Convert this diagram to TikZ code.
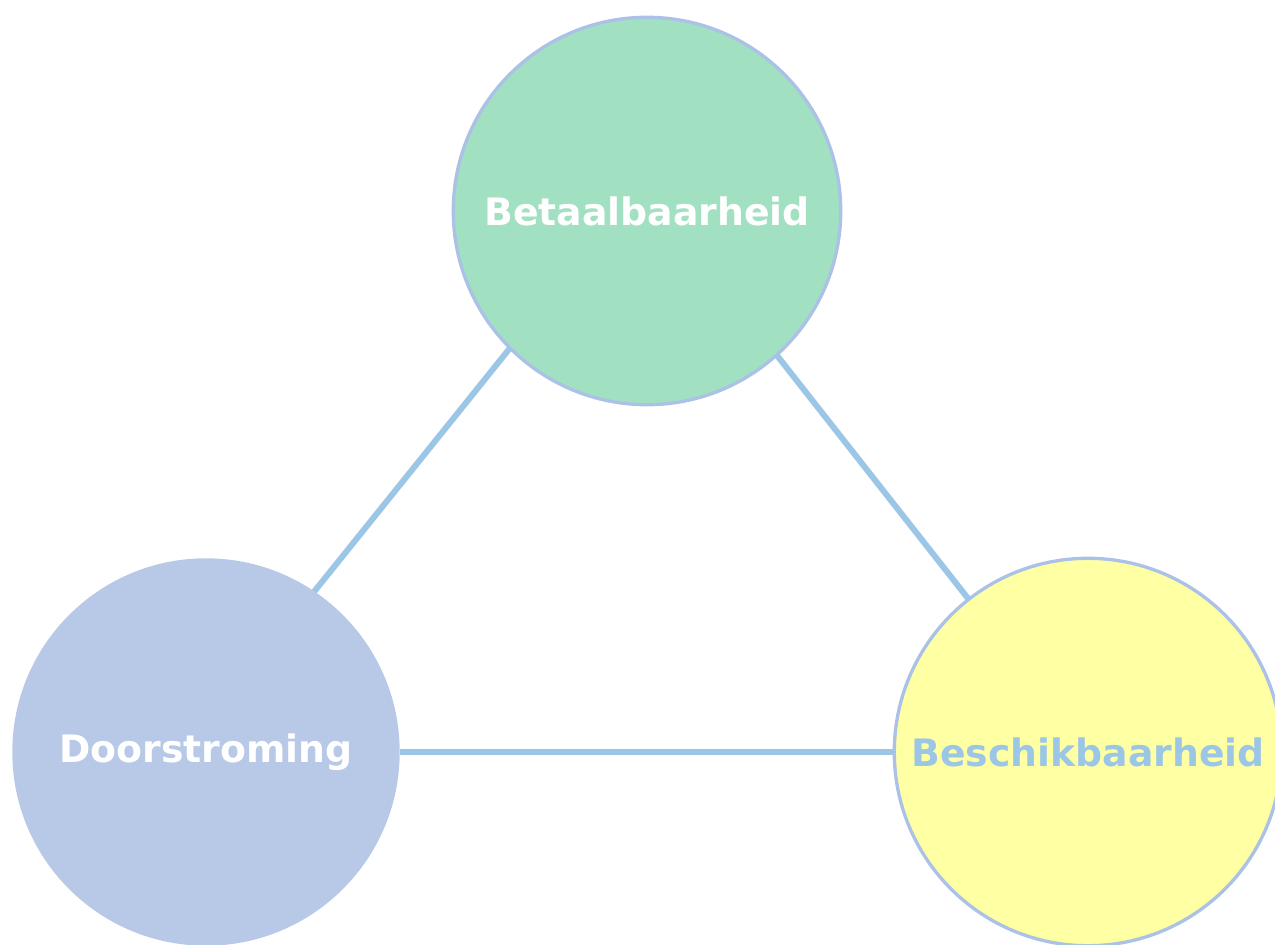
\documentclass[tikz,border=0pt]{standalone}
\usepackage{fontspec}
\usepackage{tikz}
\usetikzlibrary{calc,positioning}
\newfontfamily\verd{DejaVu Sans}
\definecolor{bgreen}{HTML}{A2E0C2}
\definecolor{dblue}{HTML}{B7C9E7}
\definecolor{byellow}{HTML}{FFFFA4}
\definecolor{rimblue}{HTML}{ABC2E6}
\definecolor{linkblue}{HTML}{9CC6E6}
\tikzset{%
  bubble/.style={circle,minimum size=7.75cm,inner sep=0pt,outer sep=0pt,
    font=\verd\bfseries\fontsize{21.5}{24}\selectfont,text=white},
  rim/.style={draw=rimblue,line width=1.9pt},
  link/.style={draw=linkblue,line width=3.4pt}%
}

\begin{document}
\begin{tikzpicture}[x=0.02cm,y=-0.02cm] % three pillars
    \useasboundingbox (0,0) rectangle (1275,944);
    \clip (0,0) rectangle (1275,944);
    
    % centres of the three circles
    \coordinate (ptop) at (647,211);
    \coordinate (pleft) at (206,752);
    \coordinate (pright) at (1088,752);
    
    \node[bubble,fill=bgreen,rim] (bet) at (ptop) {Betaalbaarheid};
    \node[bubble,fill=dblue] (door) at (pleft) {Doorstroming};
    \node[bubble,fill=byellow,rim,text=linkblue] (besch) at (pright) {Beschikbaarheid};
    
    \draw[link] (bet.225) -- (door.56);
    \draw[link] (bet.-48) -- (besch.128);
    \draw[link] (door.east) -- (besch.west);
    
\end{tikzpicture}
\end{document}
